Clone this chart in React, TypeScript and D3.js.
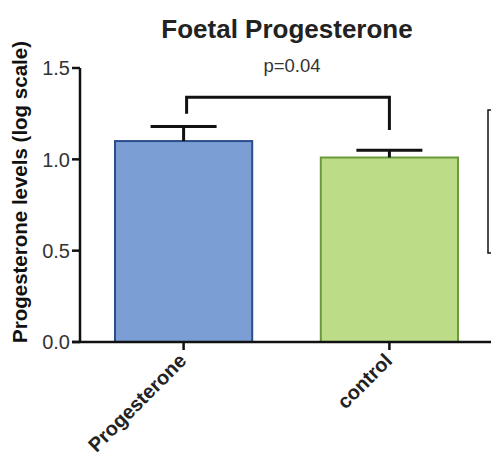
import React from 'react';
import * as d3 from 'd3';

const categories = ['Progesterone', 'control'];
const means = [1.1, 1.01];
const errors = [0.08, 0.04];
const fills = ['#7b9fd5', '#bcdc88'];
const strokes = ['#2c4d8c', '#6b9a3a'];
const yTicks = [0.0, 0.5, 1.0, 1.5];
// significance bracket: level and the two leg ends
const bracketLevel = 1.34;
const bracketLegs = [1.25, 1.16];
const pLabel = 'p=0.04';

const font = 'Liberation Sans, Arial, Helvetica, sans-serif';

const App = () => {
  const width = 491;
  const height = 455;

  const y = d3.scaleLinear().domain([0, 1.5]).range([342, 68]);
  const x = d3.scaleBand().domain(categories).range([115, 458]).paddingInner(1 / 3).paddingOuter(0);
  const bw = x.bandwidth();
  const cx = (c) => x(c) + bw / 2;

  const axisX = 80;
  const capHalf = 33;

  return (
    <svg width={width} height={height} style={{ position: 'absolute', left: 0, top: 0, background: '#fff' }}>
      <text x={287} y={38} textAnchor="middle" fontFamily={font} fontWeight="bold" fontSize={26} fill="#222">
        Foetal Progesterone
      </text>

      <text
        transform={`translate(27, ${192}) rotate(-90)`}
        textAnchor="middle"
        fontFamily={font}
        fontWeight="bold"
        fontSize={20.5}
        fill="#111"
      >
        Progesterone levels (log scale)
      </text>

      {/* bars */}
      {categories.map((c, i) => (
        <rect
          key={c}
          x={x(c)}
          y={y(means[i])}
          width={bw}
          height={y(0) - y(means[i])}
          fill={fills[i]}
          stroke={strokes[i]}
          strokeWidth={2}
        />
      ))}

      {/* error bars */}
      {categories.map((c, i) => (
        <g key={c + '-err'} stroke="#111" strokeWidth={3}>
          <line x1={cx(c)} x2={cx(c)} y1={y(means[i])} y2={y(means[i] + errors[i])} />
          <line x1={cx(c) - capHalf} x2={cx(c) + capHalf} y1={y(means[i] + errors[i])} y2={y(means[i] + errors[i])} />
        </g>
      ))}

      {/* y axis */}
      <line x1={axisX} x2={axisX} y1={y(1.5)} y2={y(0)} stroke="#111" strokeWidth={2.5} />
      {yTicks.map((t) => (
        <g key={t}>
          <line x1={axisX - 8} x2={axisX} y1={y(t)} y2={y(t)} stroke="#111" strokeWidth={2.5} />
          <text x={axisX - 10} y={y(t)} dy="0.36em" textAnchor="end" fontFamily={font} fontSize={20} fill="#333">
            {t.toFixed(1)}
          </text>
        </g>
      ))}

      {/* x axis */}
      <line x1={axisX - 8} x2={width} y1={y(0)} y2={y(0)} stroke="#111" strokeWidth={2.5} />
      {categories.map((c) => (
        <g key={c + '-tick'}>
          <line x1={cx(c)} x2={cx(c)} y1={y(0)} y2={y(0) + 8} stroke="#111" strokeWidth={2.5} />
          <text
            transform={`translate(${cx(c) + 4}, ${y(0) + 20}) rotate(-45)`}
            textAnchor="end"
            fontFamily={font}
            fontWeight="bold"
            fontSize={20}
            fill="#222"
          >
            {c}
          </text>
        </g>
      ))}

      {/* significance bracket */}
      <path
        d={`M${cx(categories[0]) + 3},${y(bracketLegs[0])}V${y(bracketLevel)}H${cx(categories[1])}V${y(bracketLegs[1])}`}
        fill="none"
        stroke="#111"
        strokeWidth={3}
      />
      <text x={292} y={72} textAnchor="middle" fontFamily={font} fontSize={18.5} fill="#333">
        {pLabel}
      </text>

      {/* legend box edge, cut off at the right */}
      <rect x={488} y={110} width={20} height={143} fill="none" stroke="#111" strokeWidth={1.5} />
    </svg>
  );
};

export default App;
